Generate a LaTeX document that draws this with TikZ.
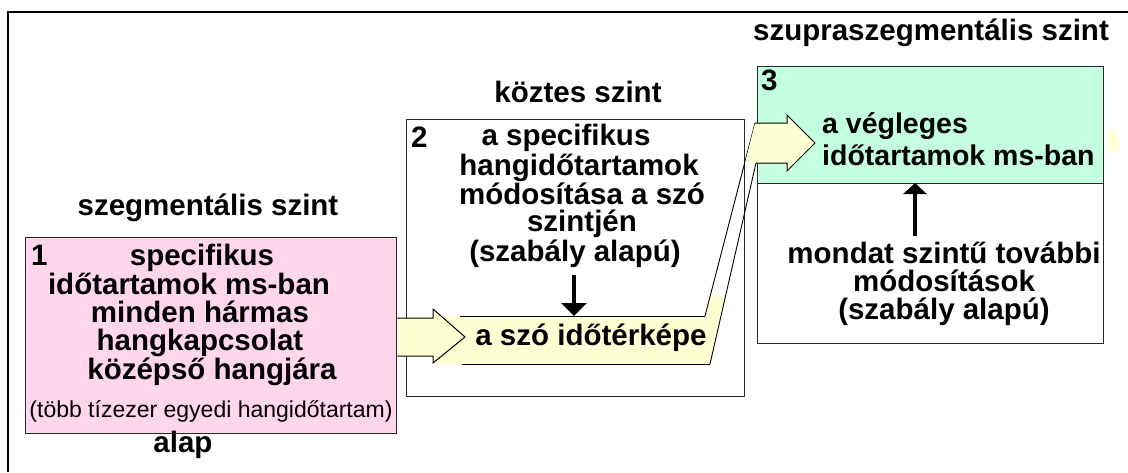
\documentclass[tikz,border=0pt]{standalone}
\usepackage{fontspec}
\setmainfont{Liberation Sans}
\usetikzlibrary{arrows.meta}
\definecolor{pinkfill}{RGB}{255,214,235}
\definecolor{mintfill}{RGB}{196,255,224}
\definecolor{creamfill}{RGB}{255,255,212}
\definecolor{boxline}{RGB}{40,40,40}
\tikzset{
  big/.style={font=\bfseries\fontsize{29.5}{30}\selectfont, inner sep=0pt, anchor=base},
  bigleft/.style={big, anchor=base west},
  snug/.style={bigleft, font=\bfseries\fontsize{28.5}{29}\selectfont},
  small/.style={font=\fontsize{23}{24}\selectfont, inner sep=0pt, anchor=base},
  level/.style={draw=boxline, line width=1.4pt},
  outline/.style={draw=black, line width=1pt, line join=miter},
  slant/.style={draw=black, line width=0.9pt},
  push/.style={line width=3.2pt, -{Triangle[width=25pt,length=13pt]}}
}
\begin{document}
\begin{tikzpicture}[x=1pt,y=-1pt]
\useasboundingbox (0,0) rectangle (1128,472);
\fill[white] (0,0) rectangle (1128,472);

% outer frame (open at right and bottom)
\draw[line width=2pt] (8,472) -- (8,12) -- (1128,12);

% level boxes
\node[level, fill=white, minimum width=338pt, minimum height=277pt, inner sep=0pt, anchor=north west] (box2) at (406,119) {};
\node[level, fill=pinkfill, minimum width=371pt, minimum height=196pt, inner sep=0pt, anchor=north west] (box1) at (25,237) {};
\node[level, fill=white, minimum width=346pt, minimum height=160pt, inner sep=0pt, anchor=north west] (box3low) at (757,183) {};
\node[level, fill=mintfill, minimum width=346pt, minimum height=117pt, inner sep=0pt, anchor=north west] (box3) at (757,66) {};

% level titles
\node[big] (t1) at (208,215) {szegmentális szint};
\node[big] (t2) at (578,102) {köztes szint};
\node[big] (t3) at (931,40) {szupraszegmentális szint};
\node[big] (base) at (183,452) {alap};

% box 1 contents
\node[bigleft] (n1) at (31,265) {1};
\node[big] (b1a) at (202,265) {specifikus};
\node[big] (b1b) at (189,294) {időtartamok ms-ban};
\node[big] (b1c) at (200,322) {minden hármas};
\node[big] (b1d) at (200,350) {hangkapcsolat};
\node[big] (b1e) at (212,379) {középső hangjára};
\node[small] (b1f) at (211,417) {(több tízezer egyedi hangidőtartam)};

% box 2 contents
\node[bigleft] (n2) at (411,147) {2};
\node[big] (b2a) at (566,145) {a specifikus};
\node[big] (b2b) at (579,175) {hangidőtartamok};
\node[big] (b2c) at (582,204) {módosítása a szó};
\node[big] (b2d) at (582,231) {szintjén};
\node[big] (b2e) at (575,261) {(szabály alapú)};

% box 3 contents
\node[bigleft] (n3) at (761,90) {3};
\node[snug] (b3a) at (822,133) {a végleges};
\node[snug] (b3b) at (822,165) {időtartamok ms-ban};
\node[big] (b3c) at (944,263) {mondat szintű további};
\node[big] (b3d) at (944,291) {módosítások};
\node[big] (b3e) at (944,319) {(szabály alapú)};

% word time map band with its slanted link to box 3
\fill[creamfill] (433,316) -- (705,316) -- (710,296) -- (725,296) -- (710,364) -- (433,364) -- cycle;
\fill[creamfill] (1108,130) -- (1112,128) -- (1119,140) -- (1119,151) -- (1108,151) -- cycle;
\coordinate (bandTL) at (460,316);
\coordinate (bandTR) at (705,316);
\coordinate (bandBL) at (462,364);
\coordinate (bandBR) at (710,364);
\coordinate (linkT) at (755,123);
\coordinate (linkB) at (756,163);
\draw[outline] (bandTL) -- (bandTR);
\draw[outline] (bandBL) -- (bandBR);
\draw[slant] (bandTR) -- (linkT);
\draw[slant] (bandBR) -- (linkB);
\node[big] (map) at (591,345) {a szó időtérképe};

% block arrow from box 1 into the band
\fill[creamfill] (box1.east |- 0,318) -- (433,318) -- (433,309) -- (465,337) -- (433,363) -- (433,356) -- (box1.east |- 0,356) -- cycle;
\draw[outline] (box1.east |- 0,318) -- (433,318) -- (433,309) -- (465,337) -- (433,363) -- (433,356) -- (box1.east |- 0,356);

% block arrow into box 3
\fill[creamfill] (linkT) -- (787,123) -- (787,115) -- (815,143) -- (787,171) -- (787,163) -- (linkB) -- (745,163) -- cycle;
\draw[outline] (linkT) -- (787,123) -- (787,115) -- (815,143) -- (787,171) -- (787,163) -- (linkB);

% rule arrows
\coordinate (downFrom) at (574,275);
\coordinate (downTo) at (574,316);
\draw[push] (downFrom) -- (downTo);
\coordinate (upFrom) at (915,236);
\coordinate (upTo) at (915,183);
\draw[push, -{Triangle[width=23pt,length=11pt]}] (upFrom) -- (upTo);
\end{tikzpicture}
\end{document}
